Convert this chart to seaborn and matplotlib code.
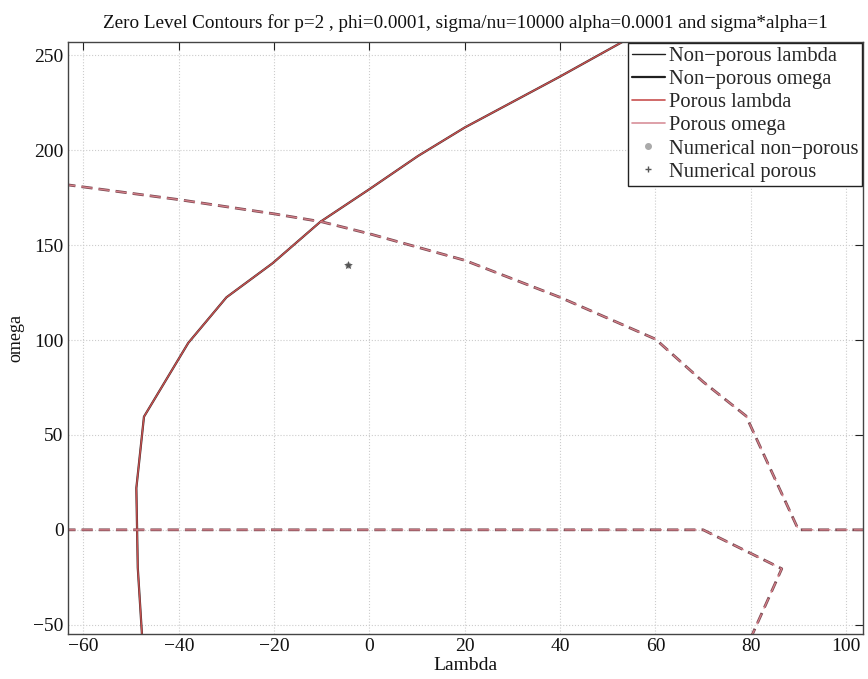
import matplotlib
matplotlib.use("Agg")
import matplotlib.pyplot as plt
import seaborn as sns
import pandas as pd
from matplotlib.lines import Line2D

# ---- data ----
lam_x = [-47.7, -48.6, -48.9, -47.3, -38.0, -30.0, -20.3, -10.3, 0.0, 10.2, 20.0, 39.8, 53.0, 56.0]
lam_y = [-56.0, -20.0, 22.0, 59.6, 98.5, 122.5, 140.5, 162.3, 179.5, 197.0, 212.0, 238.6, 257.0, 261.0]

om_upper_x = [-64.0, -40.0, -20.0, -10.0, 0.0, 20.0, 40.0, 60.0, 70.0, 79.0, 90.0, 105.0]
om_upper_y = [182.0, 174.0, 166.5, 162.3, 156.0, 142.0, 122.5, 100.5, 78.0, 60.0, 0.0, 0.0]
om_lower_x = [-64.0, 70.0, 86.5, 80.0]
om_lower_y = [0.0, 0.0, -20.5, -57.0]

num_x = [-4.6]
num_y = [139.5]

x_ticks = [-60, -40, -20, 0, 20, 40, 60, 80, 100]
y_ticks = [-50, 0, 50, 100, 150, 200, 250]

title = "Zero Level Contours for p=2 , phi=0.0001, sigma/nu=10000 alpha=0.0001 and sigma*alpha=1"

sns.set_theme(style="white")
plt.rcParams['font.family'] = ['Liberation Serif', 'DejaVu Serif']
plt.rcParams['axes.unicode_minus'] = True

fig = plt.figure(figsize=(8.68, 6.79), dpi=100)
ax = fig.add_axes([0.078, 0.066, 0.916, 0.872])

df_lam = pd.DataFrame({"x": lam_x, "y": lam_y})
df_om = pd.concat([
    pd.DataFrame({"x": om_upper_x, "y": om_upper_y, "b": "u"}),
    pd.DataFrame({"x": om_lower_x, "y": om_lower_y, "b": "l"}),
], ignore_index=True)

black = "#202020"
red_l = "#c8504f"

# Non-porous (black) underneath
sns.lineplot(data=df_lam, x="x", y="y", sort=False, estimator=None, color="#3a2a2a",
             lw=1.6, ax=ax, legend=False)
for b, g in df_om.groupby("b"):
    sns.lineplot(data=g, x="x", y="y", sort=False, estimator=None, color="#7a4a52",
                 lw=2.0, ax=ax, legend=False, dashes=False, linestyle=(0, (4, 2.2)))
# Porous (red) on top
sns.lineplot(data=df_lam, x="x", y="y", sort=False, estimator=None, color=red_l,
             lw=1.0, ax=ax, legend=False)
for b, g in df_om.groupby("b"):
    sns.lineplot(data=g, x="x", y="y", sort=False, estimator=None, color="#d8808a",
                 lw=0.9, ax=ax, legend=False, dashes=False, linestyle=(0, (8.9, 4.9)))

# numerical points
sns.scatterplot(x=num_x, y=num_y, color="#b0b0b0", s=20, marker="o", ax=ax, linewidth=0)
sns.scatterplot(x=num_x, y=num_y, color="#555555", s=45, marker="*", ax=ax, linewidth=0)

ax.set_xlim(-63.3, 103.5)
ax.set_ylim(-55, 257)
ax.set_xticks(x_ticks)
ax.set_yticks(y_ticks)
ax.tick_params(direction="in", length=6, width=0.8, top=True, right=True,
               labelsize=14, colors="#222222", labelcolor="#111111", pad=3)
ax.grid(True, linestyle=":", color="#cccccc", lw=0.8)
for s in ax.spines.values():
    s.set_visible(True)
    s.set_color("#444444")
    s.set_linewidth(1.0)

ax.set_xlabel("Lambda", fontsize=14, labelpad=1, color="#111111")
ax.set_ylabel("omega", fontsize=13, labelpad=6, color="#111111")
ax.set_title(title, fontsize=13.8, pad=10, color="#111111")

handles = [
    Line2D([], [], color=black, lw=1.0),
    Line2D([], [], color=black, lw=1.6),
    Line2D([], [], color=red_l, lw=1.2),
    Line2D([], [], color="#d8909a", lw=1.2),
    Line2D([], [], color="#aaaaaa", marker="o", ls="none", ms=4),
    Line2D([], [], color="#555555", marker="+", ls="none", ms=5),
]
labels = ["Non\u2212porous lambda", "Non\u2212porous omega", "Porous lambda",
          "Porous omega", "Numerical non\u2212porous", "Numerical porous"]
leg = ax.legend(handles, labels, loc="upper right", fontsize=14.8, frameon=True,
                fancybox=False, edgecolor="#222222", framealpha=1, handlelength=1.6,
                handletextpad=0.2, borderpad=0.2, labelspacing=0.18,
                borderaxespad=0.0, bbox_to_anchor=(0.9995, 0.999))
leg.get_frame().set_linewidth(1.0)

fig.savefig("out.png", dpi=100)
